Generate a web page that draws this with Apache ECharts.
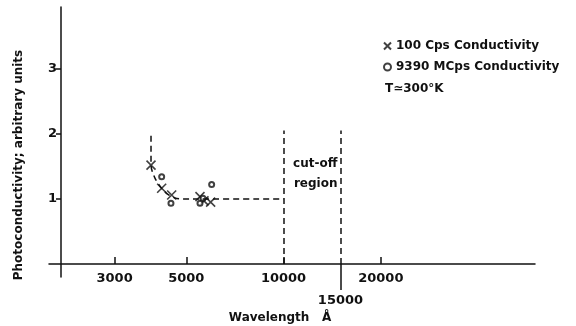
<!DOCTYPE html>
<html>
<head>
<meta charset="utf-8">
<script src="https://cdn.jsdelivr.net/npm/echarts@6/dist/echarts.min.js"></script>
<style>
  html, body { margin: 0; padding: 0; background: #fff; }
  #chart { width: 576px; height: 326px; }
</style>
</head>
<body>
<div id="chart"></div>
<script>
// wavelength in angstrom, photoconductivity in arbitrary units
const cps100X = [3889, 4196, 4506, 5513, 5672, 5948];
const cps100Y = [1.52, 1.165, 1.06, 1.035, 0.97, 0.95];
const mcps9390X = [4196, 4483, 5513, 5631, 5991];
const mcps9390Y = [1.34, 0.935, 0.935, 1.01, 1.22];
const curveX = [3889, 3889, 4000, 4198, 4385, 4610, 4887, 10000];
const curveY = [1.97, 1.52, 1.32, 1.16, 1.07, 1.015, 1.0, 1.0];
const cutoffX = [10000, 15000];
const cutoffTop = 2.05;
const xTicks = [3000, 5000, 10000, 20000];
const xLabels = [3000, 5000, 10000, 15000, 20000];
const yTicks = [1, 2, 3];

const ink = '#111';
const font = 'DejaVu Sans';

const chart = echarts.init(document.getElementById('chart'));
const zip = (xs, ys) => xs.map((x, i) => [x, ys[i]]);

chart.setOption({
  animation: false,
  backgroundColor: '#fff',
  textStyle: { fontFamily: font, color: ink },
  grid: { left: 49, right: 41, top: 7, bottom: 49, outerBoundsMode: 'none', containLabel: false },
  legend: {
    orient: 'vertical',
    left: 378,
    top: 35,
    itemWidth: 7,
    itemHeight: 7,
    itemGap: 9,
    textStyle: { fontFamily: font, fontSize: 12, fontWeight: 'bold', color: ink },
    data: ['100 Cps Conductivity', '9390 MCps Conductivity']
  },
  graphic: [{
    type: 'text',
    left: 385,
    top: 83,
    style: { text: 'T\u2243300\u00b0K', font: 'bold 12px DejaVu Sans', fill: ink }
  }],
  xAxis: [{
    type: 'log',
    min: 1880,
    max: 60000,
    position: 'bottom',
    axisLine: { onZero: true, onZeroAxisIndex: 0, lineStyle: { color: ink, width: 1.5 } },
    axisTick: { inside: true, length: 7, customValues: xTicks, lineStyle: { color: ink, width: 1.5 } },
    axisLabel: {
      customValues: xLabels,
      margin: -5,
      fontSize: 13,
      fontWeight: 'bold',
      color: ink,
      formatter: v => (v === 15000 ? '{low|15000}' : String(v)),
      rich: { low: { fontSize: 13, fontWeight: 'bold', color: ink, padding: [22, 0, 0, 0] } }
    },
    splitLine: { show: false },
    minorTick: { show: false },
    name: 'Wavelength   \u00c5',
    nameLocation: 'middle',
    nameGap: 33,
    nameTextStyle: { fontSize: 12, fontWeight: 'bold', color: ink, padding: [0, 24, 0, 0] }
  }, {
    // only carries the long downward tick at 15000
    type: 'log',
    min: 1880,
    max: 60000,
    position: 'bottom',
    axisLine: { show: true, onZero: true, onZeroAxisIndex: 1, lineStyle: { color: ink, width: 1.5, opacity: 0 } },
    axisTick: { inside: false, length: 26, customValues: [15000], lineStyle: { color: ink, width: 1.5 } },
    axisLabel: { show: false },
    splitLine: { show: false }
  }],
  yAxis: [{
    type: 'value',
    min: -0.2,
    max: 3.95,
    offset: -12,
    axisLine: { show: true, onZero: false, lineStyle: { color: ink, width: 1.5 } },
    axisTick: { show: true, length: 5, customValues: yTicks, lineStyle: { color: ink, width: 1.5 } },
    axisLabel: { customValues: yTicks, margin: 4, fontSize: 13, fontWeight: 'bold', color: ink },
    splitLine: { show: false },
    name: 'Photoconductivity; arbitrary units',
    nameLocation: 'middle',
    nameGap: 36,
    nameTextStyle: { fontSize: 12, fontWeight: 'bold', color: ink, padding: [0, 46, 0, 0] }
  }, {
    type: 'value',
    min: -0.2,
    max: 3.95,
    position: 'left',
    axisLine: { show: false, onZero: false },
    axisTick: { show: false },
    axisLabel: { show: false },
    splitLine: { show: false }
  }],
  series: [{
    name: 'curve',
    type: 'line',
    data: zip(curveX, curveY),
    smooth: 0.3,
    symbol: 'none',
    lineStyle: { color: ink, width: 1.5, type: [6, 4] },
    silent: true,
    markLine: {
      silent: true,
      symbol: ['none', 'none'],
      label: { show: false },
      lineStyle: { color: ink, width: 1.5, type: [6, 4] },
      data: cutoffX.map(x => [{ coord: [x, 0] }, { coord: [x, cutoffTop] }])
    },
    markArea: {
      silent: true,
      itemStyle: { color: 'transparent' },
      label: {
        show: true,
        position: 'insideTopRight',
        distance: 3,
        padding: [20, 0, 0, 0],
        align: 'right',
        lineHeight: 20,
        fontSize: 12,
        fontWeight: 'bold',
        color: ink,
        fontFamily: font
      },
      data: [[{ name: 'cut-off\nregion', coord: [cutoffX[0], 0] }, { coord: [cutoffX[1], cutoffTop] }]]
    }
  }, {
    name: '100 Cps Conductivity',
    type: 'scatter',
    data: zip(cps100X, cps100Y),
    symbol: 'path://M0,0L10,10M10,0L0,10',
    symbolSize: 9,
    itemStyle: { color: 'transparent', borderColor: ink, borderWidth: 1.6 }
  }, {
    name: '9390 MCps Conductivity',
    type: 'scatter',
    data: zip(mcps9390X, mcps9390Y),
    symbol: 'emptyCircle',
    symbolSize: 5,
    itemStyle: { color: ink, borderWidth: 1.2 }
  }]
});
</script>
</body>
</html>
